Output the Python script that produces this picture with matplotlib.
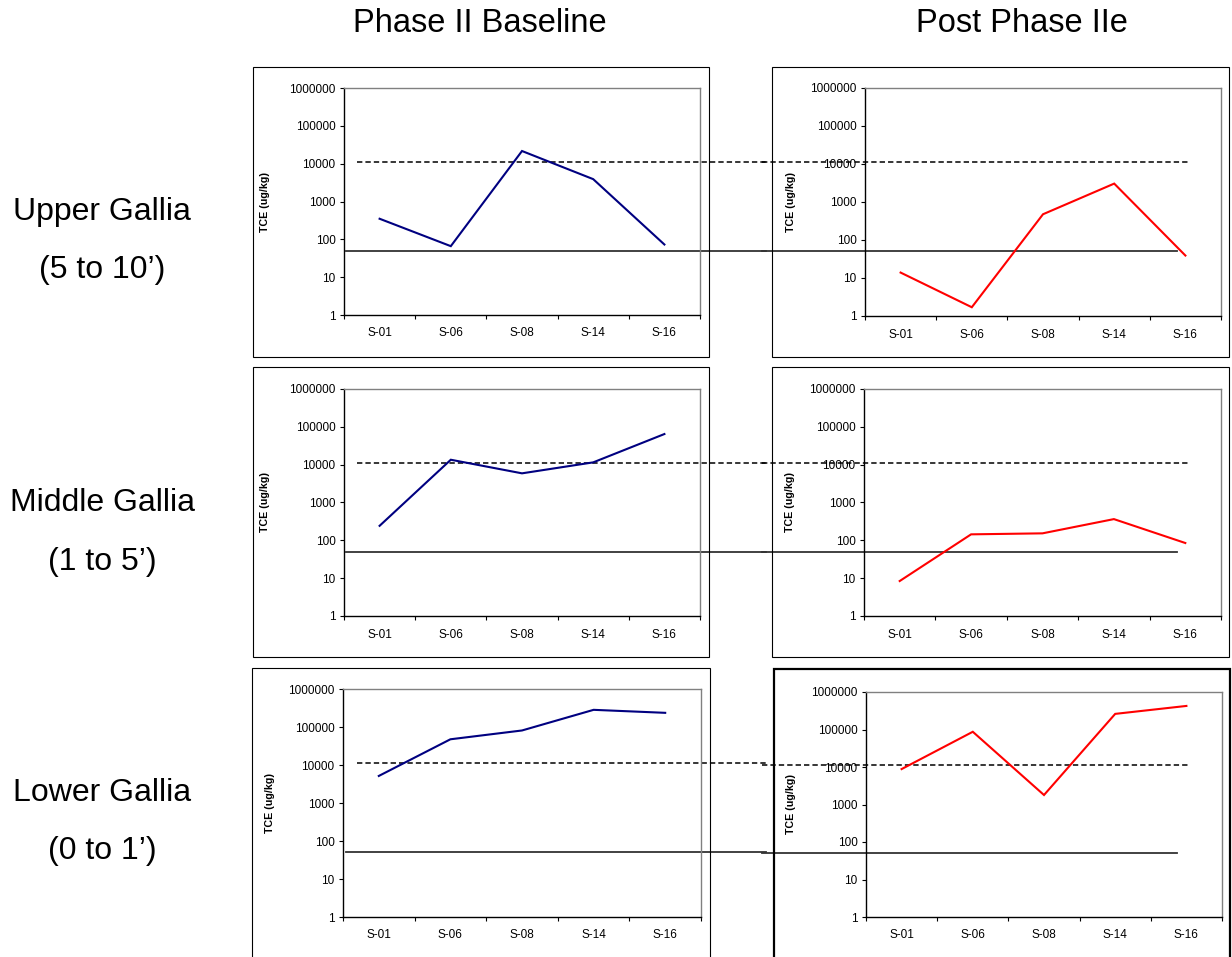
import matplotlib
matplotlib.use("Agg")
import matplotlib.pyplot as plt
from matplotlib.patches import Rectangle
import matplotlib.transforms as mtransforms

plt.rcParams['font.family'] = ['Liberation Sans', 'DejaVu Sans']

# ---------------- data ----------------
categories = ["S-01", "S-06", "S-08", "S-14", "S-16"]
column_titles = ["Phase II Baseline", "Post Phase IIe"]
row_titles = ["Upper Gallia", "Middle Gallia", "Lower Gallia"]
row_depths = ["(5 to 10\u2019)", "(1 to 5\u2019)", "(0 to 1\u2019)"]

baseline_upper = [350, 66, 21600, 3900, 73]
baseline_middle = [242, 13500, 5900, 11500, 64500]
baseline_lower = [5150, 47500, 81000, 283000, 236000]

post_upper = [13.9, 1.7, 476, 3050, 39]
post_middle = [8.4, 144, 153, 364, 85]
post_lower = [8800, 87000, 1790, 261000, 425000]

dashed_level = 11000   # upper reference level (ug/kg)
solid_level = 50       # lower reference level (ug/kg)

ytick_values = [1, 10, 100, 1000, 10000, 100000, 1000000]
ytick_labels = ["1", "10", "100", "1000", "10000", "100000", "1000000"]
ylabel = "TCE (ug/kg)"

# ---------------- layout (pixels) ----------------
W, H = 1232, 957
fig = plt.figure(figsize=(W / 100, H / 100), dpi=100)

def fr(l, t, r, b):
    return [l / W, 1 - b / H, (r - l) / W, (b - t) / H]

# axes boxes (l, t, r, b)
axes_px = [
    [(344, 88, 700, 315), (865, 88, 1221, 316)],
    [(344, 389, 700, 616), (864, 389, 1221, 616)],
    [(343, 689, 701, 917), (866, 692, 1222, 917)],
]
outer_px = [
    [(253, 67, 709, 357), (772, 67, 1229, 357)],
    [(253, 367, 709, 657), (772, 367, 1229, 657)],
    [(252, 668, 710, 970), (774, 669, 1230, 970)],
]
outer_lw = [[0.8, 0.8], [0.8, 0.8], [0.8, 1.6]]
ylabel_x = [[-0.208, -0.193], [-0.208, -0.193], [-0.19, -0.196]]

# reference line x extents (figure pixels): left segment / right segment
dash_seg = [(357, 766), (762, 1188)]
solid_seg = [(346, 766), (762, 1177)]

data = [[baseline_upper, post_upper],
        [baseline_middle, post_middle],
        [baseline_lower, post_lower]]
colors = ["#000080", "#ff0000"]

# outer boxes
for r in range(3):
    for c in range(2):
        l, t, rr, b = outer_px[r][c]
        fig.patches.append(Rectangle((l / W, 1 - b / H), (rr - l) / W, (b - t) / H,
                                     transform=fig.transFigure, fill=False,
                                     edgecolor="black", linewidth=outer_lw[r][c]))

xpos = [i + 0.5 for i in range(len(categories))]

for r in range(3):
    for c in range(2):
        ax = fig.add_axes(fr(*axes_px[r][c]))
        ax.set_facecolor("none")
        ax.set_yscale("log")
        ax.set_ylim(1, 1000000)
        ax.set_xlim(0, len(categories))
        ax.plot(xpos, data[r][c], color=colors[c], linewidth=1.5, zorder=3,
                solid_joinstyle="miter")

        ax.set_yticks(ytick_values)
        ax.set_yticklabels(ytick_labels)
        ax.yaxis.set_minor_locator(matplotlib.ticker.NullLocator())
        ax.tick_params(axis="y", which="major", direction="out", length=3,
                       width=0.8, labelsize=8.5, pad=3)
        ax.set_xticks(range(len(categories) + 1))
        ax.set_xticklabels([""] * (len(categories) + 1))
        ax.set_xticks(xpos, minor=True)
        ax.set_xticklabels(categories, minor=True)
        ax.tick_params(axis="x", which="major", direction="out", length=3, width=0.8)
        ax.tick_params(axis="x", which="minor", length=0, labelsize=8.5, pad=9)

        for s in ["left", "bottom"]:
            ax.spines[s].set_color("black")
            ax.spines[s].set_linewidth(1.0)
        for s in ["top", "right"]:
            ax.spines[s].set_color("#808080")
            ax.spines[s].set_linewidth(1.0)

        ax.set_ylabel(ylabel, fontsize=7.7, fontweight="bold")
        ax.yaxis.set_label_coords(ylabel_x[r][c], 0.5)

        trans = mtransforms.blended_transform_factory(fig.transFigure, ax.transData)
        x0, x1 = dash_seg[c]
        ax.plot([x0 / W, x1 / W], [dashed_level, dashed_level], transform=trans,
                color="black", linestyle=(0, (3.5, 2)), linewidth=1.1,
                clip_on=False, zorder=2)
        x0, x1 = solid_seg[c]
        ax.plot([x0 / W, x1 / W], [solid_level, solid_level], transform=trans,
                color="#333333", linestyle="-", linewidth=1.3,
                clip_on=False, zorder=2)

# column titles
fig.text(480 / W, 1 - 24 / H, column_titles[0], fontsize=23.5, ha="center", va="center")
fig.text(1022 / W, 1 - 24 / H, column_titles[1], fontsize=23.5, ha="center", va="center")

# row titles
row_y = [(212, 270), (503, 562), (793, 851)]
for i in range(3):
    fig.text(102 / W, 1 - row_y[i][0] / H, row_titles[i], fontsize=23, ha="center", va="center")
    fig.text(102 / W, 1 - row_y[i][1] / H, row_depths[i], fontsize=23, ha="center", va="center")

fig.savefig("out.png", dpi=100, facecolor="white")
